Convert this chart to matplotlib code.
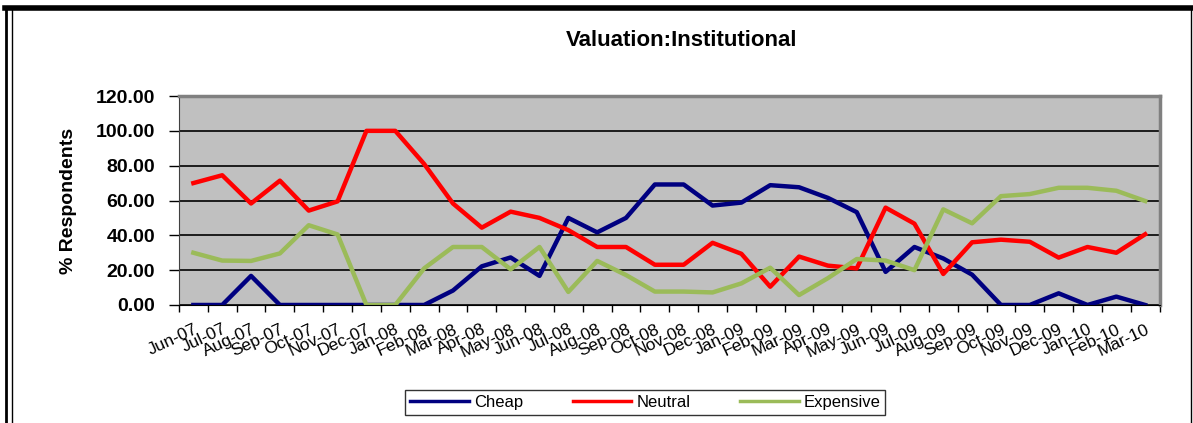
import matplotlib
matplotlib.use('Agg')
import matplotlib.pyplot as plt
from matplotlib.lines import Line2D

plt.rcParams['font.family'] = ['Liberation Sans', 'DejaVu Sans']

# data
months = ['Jun-07', 'Jul-07', 'Aug-07', 'Sep-07', 'Oct-07', 'Nov-07', 'Dec-07', 'Jan-08',
          'Feb-08', 'Mar-08', 'Apr-08', 'May-08', 'Jun-08', 'Jul-08', 'Aug-08', 'Sep-08',
          'Oct-08', 'Nov-08', 'Dec-08', 'Jan-09', 'Feb-09', 'Mar-09', 'Apr-09', 'May-09',
          'Jun-09', 'Jul-09', 'Aug-09', 'Sep-09', 'Oct-09', 'Nov-09', 'Dec-09', 'Jan-10',
          'Feb-10', 'Mar-10']
cheap = [0, 0, 16.7, 0, 0, 0, 0, 0,
         0, 8.3, 22.2, 27.3, 16.7, 50.0, 41.7, 50.0,
         69.2, 69.2, 57.1, 58.8, 68.8, 67.6, 61.5, 53.3,
         19.0, 33.3, 26.7, 17.4, 0, 0, 6.7, 0,
         4.8, 0]
neutral = [70.0, 74.5, 58.3, 71.4, 54.2, 59.5, 100.0, 100.0,
           81.0, 58.3, 44.4, 53.6, 50.0, 43.0, 33.3, 33.3,
           23.1, 23.1, 35.7, 29.4, 10.5, 27.8, 22.6, 21.0,
           55.9, 46.7, 17.8, 36.0, 37.5, 36.3, 27.2, 33.3,
           30.0, 40.6]
expensive = [30.0, 25.5, 25.3, 29.6, 45.8, 40.5, 0, 0,
             21.0, 33.3, 33.3, 20.5, 33.3, 7.5, 25.3, 17.2,
             7.7, 7.7, 7.2, 12.4, 21.4, 5.7, 15.4, 26.4,
             25.5, 20.0, 54.9, 46.9, 62.5, 63.7, 67.3, 67.3,
             65.6, 59.7]

fig = plt.figure(figsize=(11.93, 4.23), dpi=100)
ax = fig.add_axes([0.150, 0.279, 0.822, 0.494])
ax.set_facecolor('#C0C0C0')

x = list(range(len(months)))
ax.plot(x, cheap, color='#000080', lw=3.2, label='Cheap', solid_joinstyle='round')
ax.plot(x, neutral, color='#FF0000', lw=3.2, label='Neutral', solid_joinstyle='round')
ax.plot(x, expensive, color='#9BBB59', lw=3.2, label='Expensive', solid_joinstyle='round')

ax.set_xlim(-0.5, len(months) - 0.5)
ax.set_ylim(0, 120)
ax.set_yticks(range(0, 121, 20))
ax.set_yticklabels([f'{v:.2f}' for v in range(0, 121, 20)], fontsize=14, fontweight='bold')
ax.yaxis.grid(True, color='black', lw=1.2)
ax.set_axisbelow(True)
ax.tick_params(axis='y', length=7, width=1, pad=10)

ax.set_xticks(x)
ax.set_xticklabels(months, rotation=25, ha='right', rotation_mode='anchor', fontsize=12.5)
ax.set_xticks([i - 0.5 for i in range(len(months) + 1)], minor=True)
ax.tick_params(axis='x', which='major', length=0, pad=12)
ax.tick_params(axis='x', which='minor', length=5, width=1)

for side in ['top', 'right']:
    ax.spines[side].set_color('#808080')
    ax.spines[side].set_linewidth(2.5)
ax.spines['left'].set_color('#404040')
ax.spines['bottom'].set_color('black')

ax.set_ylabel('% Respondents', fontsize=14, fontweight='bold', labelpad=14)
fig.text(0.571, 0.905, 'Valuation:Institutional', ha='center', va='center',
         fontsize=16, fontweight='bold')

leg = fig.legend(loc='center', bbox_to_anchor=(0.541, 0.048), ncol=3, frameon=True,
                 fancybox=False, edgecolor='black', fontsize=12, handlelength=3.5,
                 columnspacing=3, borderpad=0.3, handletextpad=0.3)
leg.get_frame().set_linewidth(1)
for h in leg.legend_handles:
    h.set_linewidth(2.5)

# outer frame
fig.add_artist(Line2D([0.004, 0.998], [0.981, 0.981], transform=fig.transFigure, color='black', lw=4))
fig.add_artist(Line2D([0.005, 0.005], [0, 0.981], transform=fig.transFigure, color='black', lw=2))
fig.add_artist(Line2D([0.010, 0.010], [0, 0.981], transform=fig.transFigure, color='black', lw=1))
fig.add_artist(Line2D([0.998, 0.998], [0, 0.981], transform=fig.transFigure, color='black', lw=1))

fig.savefig('out.png', dpi=100)
